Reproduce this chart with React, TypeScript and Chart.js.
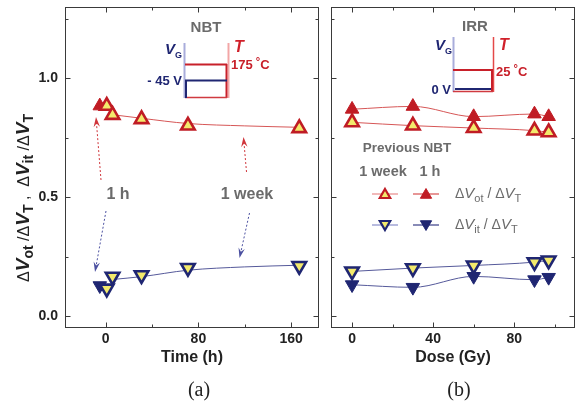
import React, { useEffect, useRef } from 'react';
import { Chart, registerables } from 'chart.js';
Chart.register(...registerables);

// ---------------- data ----------------
const timeTicks = [0, 80, 160];
const timeMinor = [40, 120];
const doseTicks = [0, 40, 80];
const doseMinor = [20, 60, 100];
const yTicks = [0, 0.5, 1.0];
const yMinor = [0.25, 0.75, 1.25];

// (a) NBT recovery vs time
const nbtTime = [1, 6, 31, 71, 167];
const nbtVot = [0.884, 0.846, 0.828, 0.801, 0.79];
const nbtVit = [0.116, 0.166, 0.172, 0.203, 0.211];
const nbtTime1h = [-5];
const nbtVot1h = [0.884];
const nbtVit1h = [0.128];
const fitTime = [6, 31, 71, 120, 167];
const fitVot = [0.847, 0.832, 0.81, 0.8, 0.794];
const fitVit = [0.154, 0.166, 0.193, 0.207, 0.214];

// (b) irradiation vs dose
const dose = [0, 30, 60, 90, 97];
const irrVot1h = [0.87, 0.882, 0.839, 0.85, 0.839];
const irrVot1w = [0.815, 0.801, 0.791, 0.78, 0.773];
const irrVit1w = [0.188, 0.202, 0.213, 0.227, 0.234];
const irrVit1h = [0.132, 0.121, 0.167, 0.153, 0.163];

// ---------------- styles ----------------
const FAM = "'Liberation Sans', Arial, Helvetica, sans-serif";
const RED = '#c01c24';
const YEL = '#f3ea6c';
const NAVY = '#1f2672';
const RED_LINE = '#d65656';
const NAVY_LINE = '#55599a';
const GRAY = '#6b6b6b';
const INK = '#222222';

const LEFT_OFF = 0;
const RIGHT_OFF = 326;

const xy = (xs: number[], ys: number[]) => xs.map((x, i) => ({ x, y: ys[i] }));

function lineDs(xs: number[], ys: number[], color: string) {
  return {
    data: xy(xs, ys), showLine: true, borderColor: color, borderWidth: 1,
    pointRadius: 0, tension: 0.4, cubicInterpolationMode: 'monotone',
  };
}
function markDs(xs: number[], ys: number[], down: boolean, filled: boolean, color: string, line?: string) {
  return {
    data: xy(xs, ys), showLine: !!line, borderColor: line || color, borderWidth: 1,
    cubicInterpolationMode: 'monotone',
    pointStyle: 'triangle', pointRotation: down ? 180 : 0, pointRadius: 7.8,
    pointBackgroundColor: filled ? color : YEL, pointBorderColor: color,
    pointBorderWidth: filled ? 1 : 2.6,
  };
}

type Seg = { t: string; f: string; dy?: number; c?: string };
function richWidth(ctx: CanvasRenderingContext2D, segs: Seg[]) {
  let w = 0;
  for (const s of segs) { ctx.font = s.f; w += ctx.measureText(s.t).width; }
  return w;
}
function drawRich(ctx: CanvasRenderingContext2D, segs: Seg[], x: number, y: number, align = 'left', color = INK) {
  const w = richWidth(ctx, segs);
  let cx = align === 'center' ? x - w / 2 : align === 'right' ? x - w : x;
  ctx.textBaseline = 'alphabetic';
  ctx.textAlign = 'left';
  for (const s of segs) {
    ctx.font = s.f;
    ctx.fillStyle = s.c || color;
    ctx.fillText(s.t, cx, y + (s.dy || 0));
    cx += ctx.measureText(s.t).width;
  }
}
function text(ctx: CanvasRenderingContext2D, t: string, x: number, y: number, font: string, color: string, align: CanvasTextAlign = 'center') {
  ctx.font = font; ctx.fillStyle = color; ctx.textAlign = align; ctx.textBaseline = 'middle';
  ctx.fillText(t, x, y);
}
function seg(ctx: CanvasRenderingContext2D, x1: number, y1: number, x2: number, y2: number, color: string, w: number) {
  ctx.strokeStyle = color; ctx.lineWidth = w;
  ctx.beginPath(); ctx.moveTo(x1, y1); ctx.lineTo(x2, y2); ctx.stroke();
}
function tri(ctx: CanvasRenderingContext2D, x: number, y: number, r: number, down: boolean, fill: string, stroke: string, lw: number) {
  const s = down ? -1 : 1;
  ctx.beginPath();
  ctx.moveTo(x, y - s * r);
  ctx.lineTo(x + r * 0.866, y + s * r / 2);
  ctx.lineTo(x - r * 0.866, y + s * r / 2);
  ctx.closePath();
  ctx.fillStyle = fill; ctx.fill();
  ctx.strokeStyle = stroke; ctx.lineWidth = lw; ctx.stroke();
}
function dottedArrow(ctx: CanvasRenderingContext2D, x1: number, y1: number, x2: number, y2: number, color: string) {
  ctx.save();
  ctx.strokeStyle = color; ctx.lineWidth = 1; ctx.setLineDash([2, 2]);
  const a = Math.atan2(y2 - y1, x2 - x1);
  const L = 10, W = 3.2;
  ctx.beginPath(); ctx.moveTo(x1, y1); ctx.lineTo(x2 - 6 * Math.cos(a), y2 - 6 * Math.sin(a)); ctx.stroke();
  ctx.setLineDash([]);
  const c = Math.cos(a), s = Math.sin(a);
  ctx.fillStyle = color;
  ctx.beginPath();
  ctx.moveTo(x2, y2);
  ctx.lineTo(x2 - L * c + W * s, y2 - L * s - W * c);
  ctx.lineTo(x2 - 0.65 * L * c, y2 - 0.65 * L * s);
  ctx.lineTo(x2 - L * c - W * s, y2 - L * s + W * c);
  ctx.closePath(); ctx.fill();
  ctx.restore();
}

function drawFrame(chart: any, xMaj: number[], xMin: number[]) {
  const { ctx, chartArea: a, scales } = chart;
  ctx.save();
  ctx.strokeStyle = '#3a3a3a'; ctx.lineWidth = 1;
  const L = Math.round(a.left) + 0.5, R = Math.round(a.right) - 0.5;
  const T = Math.round(a.top) + 0.5, B = Math.round(a.bottom) - 0.5;
  ctx.strokeRect(L, T, R - L, B - T);
  ctx.beginPath();
  const xs: [number[], number][] = [[xMaj, 5], [xMin, 3]];
  for (const [vals, len] of xs) for (const v of vals) {
    const p = Math.round(scales.x.getPixelForValue(v)) + 0.5;
    ctx.moveTo(p, B); ctx.lineTo(p, B - len);
    ctx.moveTo(p, T); ctx.lineTo(p, T + len);
  }
  const ys: [number[], number][] = [[yTicks, 5], [yMinor, 3]];
  for (const [vals, len] of ys) for (const v of vals) {
    const p = Math.round(scales.y.getPixelForValue(v)) + 0.5;
    ctx.moveTo(L, p); ctx.lineTo(L + len, p);
    ctx.moveTo(R, p); ctx.lineTo(R - len, p);
  }
  ctx.stroke();
  ctx.restore();
}

const B13 = `bold 13px ${FAM}`;

function drawLeftDecor(chart: any) {
  const ctx: CanvasRenderingContext2D = chart.ctx;
  ctx.save();
  ctx.translate(-LEFT_OFF, 0);
  // y axis title
  ctx.save();
  ctx.translate(23, 198);
  ctx.rotate(-Math.PI / 2);
  const N = `16px ${FAM}`, V = `italic bold 19px ${FAM}`, S = `bold 14px ${FAM}`;
  const yt: Seg[] = [
    { t: 'Δ', f: N }, { t: 'V', f: V }, { t: 'ot', f: S, dy: 4 }, { t: ' /', f: N },
    { t: 'Δ', f: N }, { t: 'V', f: V }, { t: 'T', f: S, dy: 4 }, { t: ' ,  ', f: N },
    { t: 'Δ', f: N }, { t: 'V', f: V }, { t: 'it', f: S, dy: 4 }, { t: ' /', f: N },
    { t: 'Δ', f: N }, { t: 'V', f: V }, { t: 'T', f: S, dy: 4 },
  ];
  drawRich(ctx, yt, 0, 6, 'center', INK);
  ctx.restore();

  // inset NBT
  text(ctx, 'NBT', 206, 28, `bold 15px ${FAM}`, GRAY);
  seg(ctx, 184.5, 43, 184.5, 98, '#a9addb', 2);
  seg(ctx, 228.5, 43, 228.5, 98, '#f2a6a6', 2);
  seg(ctx, 185, 64.5, 227, 64.5, '#c8202a', 2);
  seg(ctx, 226.5, 64, 226.5, 98, '#c8202a', 2);
  seg(ctx, 185, 97.5, 227, 97.5, '#d03a40', 1.5);
  seg(ctx, 185, 80.5, 227, 80.5, NAVY, 2);
  seg(ctx, 186, 80, 186, 98, NAVY, 2);
  drawRich(ctx, [{ t: 'V', f: `italic bold 15px ${FAM}` }, { t: 'G', f: `bold 9px ${FAM}`, dy: 4 }], 165, 54, 'left', NAVY);
  drawRich(ctx, [{ t: 'T', f: `italic bold 16px ${FAM}` }], 234, 52, 'left', '#d0202a');
  drawRich(ctx, [{ t: '175', f: B13 }, { t: ' °', f: `bold 11px ${FAM}`, dy: -4 }, { t: 'C', f: B13 }], 231, 69, 'left', '#c8202a');
  drawRich(ctx, [{ t: '- 45 V', f: B13 }], 182, 85, 'right', NAVY);

  // annotations
  text(ctx, '1 h', 118, 195, `bold 16px ${FAM}`, GRAY);
  text(ctx, '1 week', 247, 195, `bold 16px ${FAM}`, GRAY);
  dottedArrow(ctx, 101, 180, 96, 117, '#d0363c');
  dottedArrow(ctx, 106, 211, 95, 272, '#4b50a0');
  dottedArrow(ctx, 246.5, 172, 243.5, 137, '#d0363c');
  dottedArrow(ctx, 249.5, 213, 239.5, 258, '#4b50a0');

  // panel label
  text(ctx, '(a)', 199, 391, `20px 'Liberation Serif', 'DejaVu Serif', serif`, INK);
  ctx.restore();
}

function drawRightDecor(chart: any) {
  const ctx: CanvasRenderingContext2D = chart.ctx;
  ctx.save();
  ctx.translate(-RIGHT_OFF, 0);
  // inset IRR
  text(ctx, 'IRR', 475, 27, `bold 15px ${FAM}`, GRAY);
  seg(ctx, 453.5, 37, 453.5, 92, '#a9addb', 2);
  seg(ctx, 493.5, 37, 493.5, 92, '#e44848', 1.5);
  seg(ctx, 453, 70, 493, 70, '#c8202a', 2);
  seg(ctx, 492, 70, 492, 92, '#c8202a', 2);
  seg(ctx, 453, 91.5, 493, 91.5, '#d03a40', 1.5);
  seg(ctx, 455, 89, 491, 89, NAVY, 2);
  drawRich(ctx, [{ t: 'V', f: `italic bold 15px ${FAM}` }, { t: 'G', f: `bold 9px ${FAM}`, dy: 4 }], 435, 50, 'left', NAVY);
  drawRich(ctx, [{ t: 'T', f: `italic bold 16px ${FAM}` }], 499, 50, 'left', '#d0202a');
  drawRich(ctx, [{ t: '25', f: B13 }, { t: ' °', f: `bold 11px ${FAM}`, dy: -4 }, { t: 'C', f: B13 }], 496, 76, 'left', '#c8202a');
  drawRich(ctx, [{ t: '0 V', f: B13 }], 451, 94, 'right', NAVY);

  // legend
  text(ctx, 'Previous NBT', 407, 148, `bold 13.5px ${FAM}`, GRAY);
  text(ctx, '1 week', 383, 172, `bold 14.5px ${FAM}`, GRAY);
  text(ctx, '1 h', 430, 172, `bold 14.5px ${FAM}`, GRAY);
  seg(ctx, 372, 194, 398, 194, '#e88a8a', 1.2);
  seg(ctx, 413, 194, 439, 194, '#d85050', 1.2);
  tri(ctx, 385, 195, 6, false, YEL, RED, 2.2);
  tri(ctx, 426, 195, 6.5, false, RED, RED, 1);
  seg(ctx, 372, 225, 398, 225, '#a0a4d4', 1.5);
  seg(ctx, 413, 225, 439, 225, '#3a3f88', 1.2);
  tri(ctx, 385, 224, 6, true, YEL, NAVY, 2.2);
  tri(ctx, 426, 224, 6.5, true, NAVY, NAVY, 1);
  const LN = `14px ${FAM}`, LV = `italic 15px ${FAM}`, LS = `11px ${FAM}`;
  drawRich(ctx, [
    { t: 'Δ', f: LN }, { t: 'V', f: LV }, { t: 'ot', f: LS, dy: 4 }, { t: ' / ', f: LN },
    { t: 'Δ', f: LN }, { t: 'V', f: LV }, { t: 'T', f: LS, dy: 4 },
  ], 455, 198, 'left', GRAY);
  drawRich(ctx, [
    { t: 'Δ', f: LN }, { t: 'V', f: LV }, { t: 'it', f: LS, dy: 4 }, { t: ' / ', f: LN },
    { t: 'Δ', f: LN }, { t: 'V', f: LV }, { t: 'T', f: LS, dy: 4 },
  ], 455, 229, 'left', GRAY);

  text(ctx, '(b)', 459, 391, `20px 'Liberation Serif', 'DejaVu Serif', serif`, INK);
  ctx.restore();
}

function makeConfig(side: 'left' | 'right'): any {
  const isLeft = side === 'left';
  const datasets = isLeft
    ? [
        markDs(nbtTime, nbtVot, false, false, RED),
        markDs(nbtTime, nbtVit, true, false, NAVY),
        markDs(nbtTime1h, nbtVot1h, false, true, RED),
        markDs(nbtTime1h, nbtVit1h, true, true, NAVY),
        lineDs(fitTime, fitVot, RED_LINE),
        lineDs(fitTime, fitVit, NAVY_LINE),
      ]
    : [
        markDs(dose, irrVot1h, false, true, RED, RED_LINE),
        markDs(dose, irrVot1w, false, false, RED, RED_LINE),
        markDs(dose, irrVit1w, true, false, NAVY, NAVY_LINE),
        markDs(dose, irrVit1h, true, true, NAVY, NAVY_LINE),
      ];
  const xMaj = isLeft ? timeTicks : doseTicks;
  const xMin = isLeft ? timeMinor : doseMinor;
  const framePlugin = {
    id: 'frame' + side,
    beforeDatasetsDraw(chart: any) { drawFrame(chart, xMaj, xMin); },
    afterDraw(chart: any) { isLeft ? drawLeftDecor(chart) : drawRightDecor(chart); },
  };
  return {
    type: 'scatter',
    data: { datasets },
    options: {
      animation: false,
      responsive: false,
      events: [],
      layout: {
        autoPadding: false,
        padding: isLeft ? { top: 7, right: 7, left: 0, bottom: 0 } : { top: 7, right: 5, left: 5, bottom: 0 },
      },
      plugins: { legend: { display: false }, tooltip: { enabled: false } },
      scales: {
        x: {
          type: 'linear',
          min: isLeft ? -35 : -10.4,
          max: isLeft ? 184 : 110,
          grid: { display: false, drawTicks: false },
          border: { display: false },
          afterBuildTicks: (s: any) => { s.ticks = xMaj.map((v) => ({ value: v })); },
          afterFit: (s: any) => { s.height = 77; s.paddingLeft = 0; s.paddingRight = 0; },
          ticks: { font: { family: FAM, weight: 'bold', size: 14 }, color: INK, padding: 3, maxRotation: 0, autoSkip: false },
          title: {
            display: true, text: isLeft ? 'Time (h)' : 'Dose (Gy)',
            font: { family: FAM, weight: 'bold', size: 16 }, color: INK,
            padding: { top: 0, bottom: 38 },
          },
        },
        y: {
          type: 'linear',
          display: isLeft,
          min: -0.05,
          max: 1.3,
          grid: { display: false, drawTicks: false },
          border: { display: false },
          afterBuildTicks: (s: any) => { s.ticks = yTicks.map((v) => ({ value: v })); },
          afterFit: (s: any) => { s.width = isLeft ? 65 : 0; s.paddingTop = 0; s.paddingBottom = 0; },
          ticks: { font: { family: FAM, weight: 'bold', size: 14 }, color: INK, padding: 7, callback: (v: any) => Number(v).toFixed(1) },
        },
      },
    },
    plugins: [framePlugin],
  };
}

export default function App() {
  const leftRef = useRef<HTMLCanvasElement>(null);
  const rightRef = useRef<HTMLCanvasElement>(null);
  useEffect(() => {
    const c1 = new Chart(leftRef.current as HTMLCanvasElement, makeConfig('left'));
    const c2 = new Chart(rightRef.current as HTMLCanvasElement, makeConfig('right'));
    return () => { c1.destroy(); c2.destroy(); };
  }, []);
  return (
    <div style={{ position: 'fixed', left: 0, top: 0, width: 580, height: 405, background: '#fff', overflow: 'hidden' }}>
      <canvas ref={leftRef} width={326} height={405} style={{ position: 'absolute', left: LEFT_OFF, top: 0 }} />
      <canvas ref={rightRef} width={254} height={405} style={{ position: 'absolute', left: RIGHT_OFF, top: 0 }} />
    </div>
  );
}
